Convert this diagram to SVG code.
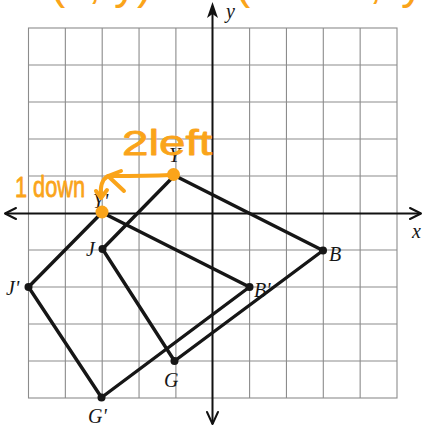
<svg xmlns="http://www.w3.org/2000/svg" width="423" height="429" viewBox="0 0 423 429">
<defs>
<style>
.grid{stroke:#8c8c8c;stroke-width:1.1;fill:none}
.axis{stroke:#111;stroke-width:2;fill:none}
.head{stroke:#111;stroke-width:2;fill:none;stroke-linecap:round;stroke-linejoin:round}
.edge{stroke:#161616;stroke-width:3.4;fill:none;stroke-linecap:round}
.dot{fill:#161616}
.lbl{font-family:"Liberation Serif","Times New Roman",serif;font-style:italic;font-size:20px;fill:#161616}
.ora{font-family:"Liberation Sans",Arial,sans-serif;fill:#FAA41A}
.oraw{font-family:"Liberation Sans",Arial,sans-serif;fill:#FAA41A;stroke:#FAA41A;stroke-width:0.8;stroke-linejoin:round}
.ostroke{stroke:#FAA41A;stroke-width:4;fill:none;stroke-linecap:round;stroke-linejoin:round}
.odot{fill:#FAA41A}
</style>
</defs>
<rect width="423" height="429" fill="#ffffff"/>
<g id="grid" class="grid">
<rect x="28.5" y="28" width="368.5" height="370"/>
<path d="M65.35,28V398M102.2,28V398M139.05,28V398M175.9,28V398M249.6,28V398M286.45,28V398M323.3,28V398M360.15,28V398"/>
<path d="M28.5,65H397M28.5,102H397M28.5,139H397M28.5,176H397M28.5,250H397M28.5,287H397M28.5,324H397M28.5,361H397"/>
</g>
<g id="axes">
<line class="axis" x1="5" y1="213.5" x2="421" y2="213.5"/>
<line class="axis" x1="212.5" y1="6" x2="212.5" y2="424"/>
<path class="head" d="M16,208 L5,213.5 L16,219"/>
<path class="head" d="M410,208 L421,213.5 L410,219"/>
<path d="M212.5,2 L218,18 L212.5,14 L207,18 Z" fill="#111"/>
<path class="head" d="M207,412 L212.5,424 L218,412"/>
<text class="lbl" x="412" y="238">x</text>
<text class="lbl" x="226" y="18">y</text>
</g>
<g id="connectors">
<line class="edge" x1="174.5" y1="175.5" x2="323" y2="250.5"/>
<line class="edge" x1="323" y1="250.5" x2="174.5" y2="361"/>
<line class="edge" x1="174.5" y1="361" x2="102.5" y2="249"/>
<line class="edge" x1="102.5" y1="249" x2="174.5" y2="175.5"/>
<line class="edge" x1="102" y1="212.5" x2="249.5" y2="287"/>
<line class="edge" x1="249.5" y1="287" x2="101.5" y2="397.5"/>
<line class="edge" x1="101.5" y1="397.5" x2="28.5" y2="287"/>
<line class="edge" x1="28.5" y1="287" x2="102" y2="212.5"/>
</g>
<g id="node-Y"><circle class="dot" cx="174.5" cy="175.5" r="4"/><text class="lbl" x="169" y="162">Y</text></g>
<g id="node-B"><circle class="dot" cx="323" cy="250.5" r="4"/><text class="lbl" x="329" y="261">B</text></g>
<g id="node-G"><circle class="dot" cx="174.5" cy="361" r="4"/><text class="lbl" x="164" y="387">G</text></g>
<g id="node-J"><circle class="dot" cx="102.5" cy="249" r="4"/><text class="lbl" x="86" y="256">J</text></g>
<g id="node-Y-prime"><circle class="dot" cx="102" cy="212.5" r="4"/><text class="lbl" x="93" y="208">Y'</text></g>
<g id="node-B-prime"><circle class="dot" cx="249.5" cy="287" r="4"/><text class="lbl" x="254" y="297">B'</text></g>
<g id="node-G-prime"><circle class="dot" cx="101.5" cy="397.5" r="4"/><text class="lbl" x="88" y="423">G'</text></g>
<g id="node-J-prime"><circle class="dot" cx="28.5" cy="287" r="4"/><text class="lbl" x="6" y="295">J'</text></g>
<g id="annotations">
<text class="ora" x="50" y="-2" font-size="46">(x, y)</text>
<text class="ora" x="235" y="-2" font-size="46" letter-spacing="3">(x − 2, y − 1)</text>
<path class="ostroke" d="M170,175 C150,176 128,176 109,176"/>
<path class="ostroke" d="M121,171 L108,176 L124,191"/>
<path class="ostroke" d="M108,176 C101,180 100,188 101,197"/>
<path class="ostroke" d="M96,191 L101,198 L107,190"/>
<circle class="odot" cx="173.5" cy="174.5" r="6.5"/>
<circle class="odot" cx="102" cy="212" r="6.5"/>
<text class="oraw" x="122" y="155" font-size="35" textLength="90" lengthAdjust="spacingAndGlyphs">2left</text>
<text class="oraw" x="15" y="197" font-size="29" textLength="70" lengthAdjust="spacingAndGlyphs">1 down</text>
</g>
</svg>
